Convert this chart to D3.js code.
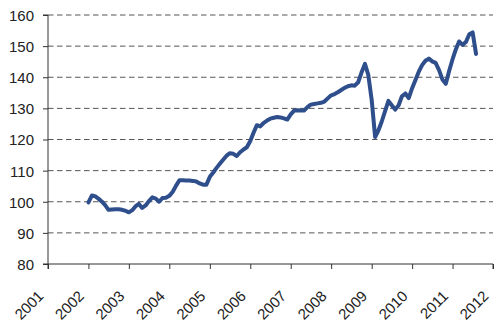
<!DOCTYPE html>
<html>
<head>
<meta charset="utf-8">
<script src="https://cdn.jsdelivr.net/npm/d3@7"></script>
<style>
  html, body { margin: 0; padding: 0; background: #fff; }
  svg { display: block; }
  .tick text { font-family: "Liberation Sans", Arial, sans-serif; font-size: 15px; fill: #222; }
</style>
</head>
<body>
<svg id="chart" width="500" height="332"></svg>
<script>
// Monthly index, January 2002 through August 2011
const firstMonth = "2002-01";
const indexValues = [
  99.8, 102.0, 101.8, 101.0, 100.1, 98.9, 97.4, 97.5, 97.6, 97.6, 97.4, 97.1,
  96.6, 97.3, 98.5, 99.3, 98.0, 98.8, 100.2, 101.4, 101.0, 100.0, 101.2, 101.3,
  101.9, 103.2, 105.1, 106.9, 106.9, 106.8, 106.8, 106.7, 106.5, 105.9, 105.5, 105.5,
  108.0, 109.4, 110.8, 112.2, 113.5, 114.8, 115.6, 115.4, 114.7, 115.9, 116.8, 117.5,
  119.5, 122.3, 124.6, 124.2, 125.3, 126.1, 126.7, 127.0, 127.2, 127.1, 126.8, 126.4,
  128.1, 129.3, 129.4, 129.3, 129.3, 130.4, 131.2, 131.4, 131.6, 131.8, 132.2, 133.2,
  134.2, 134.6, 135.2, 135.9, 136.6, 137.1, 137.4, 137.3, 138.4, 141.5, 144.3, 140.8,
  132.7, 120.8, 122.8, 125.7, 129.0, 132.4, 131.0, 129.6, 131.0, 133.9, 134.8, 133.3,
  136.5, 139.2, 141.7, 143.9, 145.3, 146.0, 145.1, 144.6, 142.3, 139.3, 137.9, 142.0,
  145.8, 149.1, 151.5, 150.4, 151.3, 153.8, 154.4, 147.5
];
const tickYears = [2001, 2002, 2003, 2004, 2005, 2006, 2007, 2008, 2009, 2010, 2011, 2012];
const yTicks = [80, 90, 100, 110, 120, 130, 140, 150, 160];

const svg = d3.select("#chart");
const plotLeft = 48, plotRight = 493, plotTop = 15, plotBottom = 264;

const parseMonth = d3.timeParse("%Y-%m");
const start = parseMonth(firstMonth);
const series = indexValues.map((v, i) => ({ date: d3.timeMonth.offset(start, i), value: v }));

const x = d3.scaleTime()
  .domain([new Date(tickYears[0], 0, 1), new Date(tickYears[tickYears.length - 1], 0, 1)])
  .range([plotLeft, plotRight]);
const y = d3.scaleLinear().domain([80, 160]).range([plotBottom, plotTop]);

// dashed horizontal gridlines
svg.append("g")
  .selectAll("line")
  .data(yTicks.filter(d => d > 80))
  .join("line")
  .attr("x1", plotLeft).attr("x2", plotRight)
  .attr("y1", d => y(d)).attr("y2", d => y(d))
  .attr("stroke", "#555")
  .attr("stroke-width", 1)
  .attr("stroke-dasharray", "5.5,3.5");

// y axis
const yAxis = svg.append("g")
  .attr("transform", `translate(${plotLeft},0)`)
  .call(d3.axisLeft(y).tickValues(yTicks).tickSize(5).tickPadding(9).tickFormat(d3.format("d")));
yAxis.select(".domain").attr("stroke", "#333").attr("d", `M-5,${plotTop}H0V${plotBottom}H-5`);
yAxis.selectAll(".tick line").attr("stroke", "#333");
yAxis.selectAll(".tick text").attr("dy", "0.36em");

// x axis with rotated year labels
const xAxis = svg.append("g")
  .attr("transform", `translate(0,${plotBottom})`)
  .call(d3.axisBottom(x)
    .tickValues(tickYears.map(yr => new Date(yr, 0, 1)))
    .tickSize(5)
    .tickFormat(d3.timeFormat("%Y")));
xAxis.select(".domain").attr("stroke", "#333").attr("d", `M${plotLeft},5V0H${plotRight}V5`);
xAxis.selectAll(".tick line").attr("stroke", "#333");
xAxis.selectAll(".tick text")
  .attr("text-anchor", "end")
  .attr("dy", null)
  .attr("y", 0)
  .attr("transform", "translate(-4,33) rotate(-45)");

// the index line
const line = d3.line()
  .x(d => x(d.date))
  .y(d => y(d.value));

svg.append("path")
  .datum(series)
  .attr("fill", "none")
  .attr("stroke", "#2f4e8c")
  .attr("stroke-width", 4)
  .attr("stroke-linejoin", "round")
  .attr("stroke-linecap", "round")
  .attr("d", line);
</script>
</body>
</html>
